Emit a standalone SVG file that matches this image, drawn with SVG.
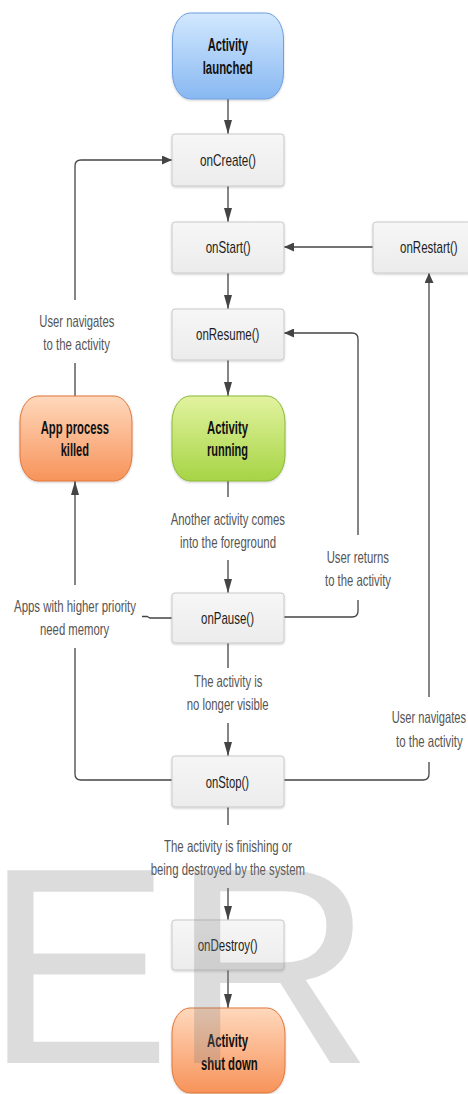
<svg xmlns="http://www.w3.org/2000/svg" width="468" height="1094" viewBox="0 0 468 1094">
<defs>
<linearGradient id="gBlue" x1="0" y1="0" x2="0" y2="1"><stop offset="0" stop-color="#d2e8fe"/><stop offset="1" stop-color="#88b8f2"/></linearGradient>
<linearGradient id="gGreen" x1="0" y1="0" x2="0" y2="1"><stop offset="0" stop-color="#e2f39f"/><stop offset="1" stop-color="#a6d445"/></linearGradient>
<linearGradient id="gOrange" x1="0" y1="0" x2="0" y2="1"><stop offset="0" stop-color="#ffd8bc"/><stop offset="1" stop-color="#f7935a"/></linearGradient>
<linearGradient id="gBox" x1="0" y1="0" x2="0" y2="1"><stop offset="0" stop-color="#f6f6f6"/><stop offset="1" stop-color="#ececec"/></linearGradient>
<filter id="sh" x="-10%" y="-10%" width="120%" height="130%"><feDropShadow dx="0" dy="1" stdDeviation="1" flood-color="#000" flood-opacity="0.2"/></filter>
<marker id="av" markerUnits="userSpaceOnUse" markerWidth="14" markerHeight="8" refX="14" refY="4" orient="auto"><path d="M0,0 L14,4 L0,8 z" fill="#444"/></marker>
<marker id="ah" markerUnits="userSpaceOnUse" markerWidth="10" markerHeight="9" refX="10" refY="4.5" orient="auto"><path d="M0,0 L10,4.5 L0,9 z" fill="#444"/></marker>
</defs>
<style>
.box{fill:url(#gBox);stroke:#cacaca;stroke-width:1;filter:url(#sh)}
.blue{fill:url(#gBlue);stroke:#6f9fe0;stroke-width:1;filter:url(#sh)}
.green{fill:url(#gGreen);stroke:#8ab83a;stroke-width:1;filter:url(#sh)}
.orange{fill:url(#gOrange);stroke:#e0763a;stroke-width:1;filter:url(#sh)}
text{font-family:"Liberation Sans",Arial,sans-serif}
.n{font-size:17px;fill:#1e1e1e}
.b{font-size:18px;font-weight:bold;fill:#111}
.l{font-size:16.5px;fill:#555}
.c{fill:none;stroke:#444;stroke-width:1.3}
.cv{marker-end:url(#av)}
.ch{marker-end:url(#ah)}
.wm{font-size:280px;fill:#808080;fill-opacity:0.28}
</style>

<g id="connectors">
<path class="c cv" d="M228,99 V134"/>
<path class="c cv" d="M228,186 V222"/>
<path class="c cv" d="M228,273 V309"/>
<path class="c cv" d="M228,360 V396"/>
<path class="c" d="M228,481 V497"/>
<path class="c cv" d="M228,560 V593"/>
<path class="c" d="M228,643 V668"/>
<path class="c cv" d="M228,723 V756"/>
<path class="c" d="M228,807 V825"/>
<path class="c cv" d="M228,888 V920"/>
<path class="c cv" d="M228,970 V1008"/>
<path class="c ch" d="M373,247 H284"/>
<path class="c" d="M284,617 H352 Q358,617 358,611 V600"/>
<path class="c ch" d="M358,535 V339 Q358,333 352,333 H284"/>
<path class="c" d="M284,780 H423 Q429,780 429,774 V762"/>
<path class="c ch" d="M429,697 V273"/>
<path class="c" d="M172,780 H81 Q75,780 75,774 V648"/>
<path class="c cv" d="M75,585 V481"/>
<path class="c" d="M172,618 H150 L147,616.5 H142"/>
<path class="c" d="M75,396 V363"/>
<path class="c ch" d="M75,300 V166 Q75,160 81,160 H172"/>
</g>

<g id="activity-launched">
<rect class="blue" x="172.5" y="13" width="111" height="86" rx="18" ry="26"/>
<text class="b" x="207.7" y="51" textLength="40.3" lengthAdjust="spacingAndGlyphs">Activity</text>
<text class="b" x="202.7" y="74" textLength="50" lengthAdjust="spacingAndGlyphs">launched</text>
</g>
<g id="onCreate">
<rect class="box" x="172" y="134" width="112" height="52" rx="3"/>
<text class="n" x="200" y="166" textLength="56" lengthAdjust="spacingAndGlyphs">onCreate()</text>
</g>
<g id="onStart">
<rect class="box" x="172" y="222" width="112" height="51" rx="3"/>
<text class="n" x="205.7" y="253" textLength="45" lengthAdjust="spacingAndGlyphs">onStart()</text>
</g>
<g id="onRestart">
<rect class="box" x="373" y="222" width="112" height="51" rx="3"/>
<text class="n" x="400" y="253" textLength="57.7" lengthAdjust="spacingAndGlyphs">onRestart()</text>
</g>
<g id="onResume">
<rect class="box" x="172" y="309" width="112" height="51" rx="3"/>
<text class="n" x="196" y="340" textLength="63.3" lengthAdjust="spacingAndGlyphs">onResume()</text>
</g>
<g id="activity-running">
<rect class="green" x="172" y="396" width="113" height="85" rx="18" ry="26"/>
<text class="b" x="207" y="433.5" textLength="41" lengthAdjust="spacingAndGlyphs">Activity</text>
<text class="b" x="207" y="456" textLength="41" lengthAdjust="spacingAndGlyphs">running</text>
</g>
<g id="app-process-killed">
<rect class="orange" x="20" y="396" width="112" height="85" rx="18" ry="26"/>
<text class="b" x="40.7" y="433.5" textLength="68.3" lengthAdjust="spacingAndGlyphs">App process</text>
<text class="b" x="60.7" y="456" textLength="28.3" lengthAdjust="spacingAndGlyphs">killed</text>
</g>
<g id="onPause">
<rect class="box" x="172" y="593" width="112" height="50" rx="3"/>
<text class="n" x="201" y="624" textLength="53" lengthAdjust="spacingAndGlyphs">onPause()</text>
</g>
<g id="onStop">
<rect class="box" x="172" y="756" width="112" height="51" rx="3"/>
<text class="n" x="205.7" y="787.5" textLength="43.3" lengthAdjust="spacingAndGlyphs">onStop()</text>
</g>
<g id="onDestroy">
<rect class="box" x="172" y="920" width="112" height="50" rx="3"/>
<text class="n" x="197.7" y="951" textLength="60" lengthAdjust="spacingAndGlyphs">onDestroy()</text>
</g>
<g id="activity-shut-down">
<rect class="orange" x="172" y="1008" width="113" height="85" rx="18" ry="26"/>
<text class="b" x="207" y="1047" textLength="41" lengthAdjust="spacingAndGlyphs">Activity</text>
<text class="b" x="201" y="1070" textLength="56.7" lengthAdjust="spacingAndGlyphs">shut down</text>
</g>

<g id="labels">
<text class="l" x="39.3" y="327" textLength="75" lengthAdjust="spacingAndGlyphs">User navigates</text>
<text class="l" x="43.3" y="350" textLength="66.7" lengthAdjust="spacingAndGlyphs">to the activity</text>
<text class="l" x="170.7" y="525" textLength="114.3" lengthAdjust="spacingAndGlyphs">Another activity comes</text>
<text class="l" x="180" y="548" textLength="96" lengthAdjust="spacingAndGlyphs">into the foreground</text>
<text class="l" x="326.7" y="563" textLength="62.3" lengthAdjust="spacingAndGlyphs">User returns</text>
<text class="l" x="325" y="586" textLength="66" lengthAdjust="spacingAndGlyphs">to the activity</text>
<text class="l" x="14" y="612" textLength="122" lengthAdjust="spacingAndGlyphs">Apps with higher priority</text>
<text class="l" x="40" y="635" textLength="69.3" lengthAdjust="spacingAndGlyphs">need memory</text>
<text class="l" x="194" y="687" textLength="68.3" lengthAdjust="spacingAndGlyphs">The activity is</text>
<text class="l" x="186.7" y="710" textLength="82" lengthAdjust="spacingAndGlyphs">no longer visible</text>
<text class="l" x="391.7" y="723" textLength="74.3" lengthAdjust="spacingAndGlyphs">User navigates</text>
<text class="l" x="396" y="747" textLength="66.7" lengthAdjust="spacingAndGlyphs">to the activity</text>
<text class="l" x="164" y="852" textLength="128" lengthAdjust="spacingAndGlyphs">The activity is finishing or</text>
<text class="l" x="150.7" y="875" textLength="154.3" lengthAdjust="spacingAndGlyphs">being destroyed by the system</text>
</g>

<g id="watermark">
<text class="wm" x="-15.6" y="1063">ER</text>
</g>
</svg>
